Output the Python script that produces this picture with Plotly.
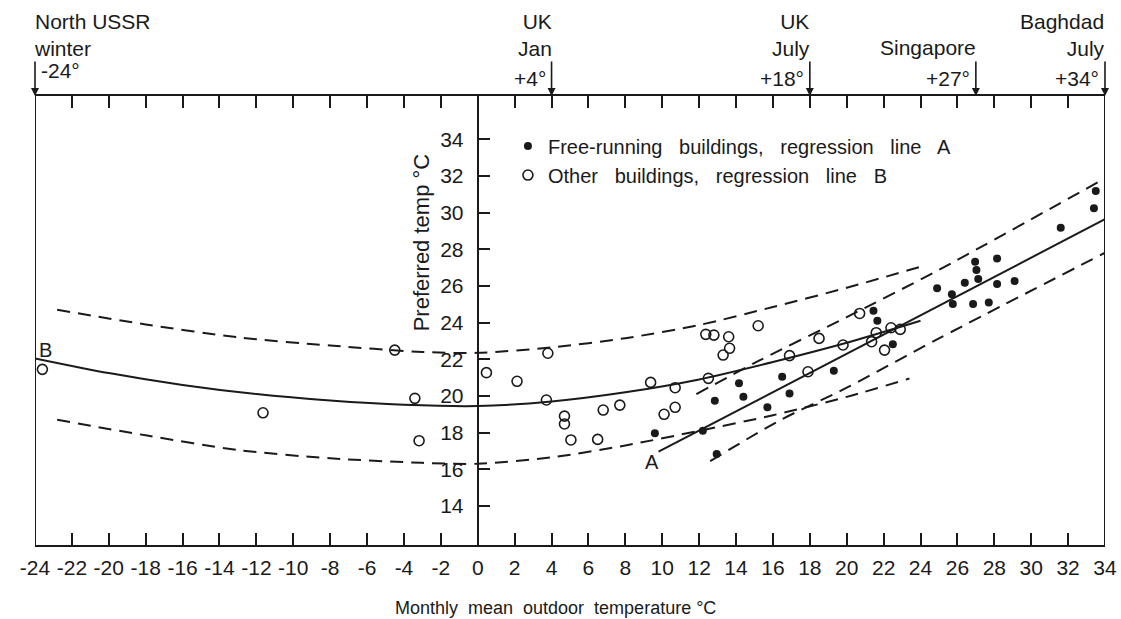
import plotly.graph_objects as go

# ---------------- data ----------------
free_x = [9.6, 12.2, 12.85, 12.95, 14.16, 14.4, 15.7, 16.5, 16.9, 19.3, 21.45, 21.66, 22.5,
          24.9, 25.7, 25.75, 26.4, 26.85, 26.96, 27.03, 27.13, 27.7, 28.15, 28.15, 29.1,
          31.6, 33.4, 33.5]
free_y = [17.96, 18.1, 19.74, 16.83, 20.69, 19.96, 19.38, 21.05, 20.14, 21.38, 24.65, 24.1, 22.82,
          25.87, 25.54, 25.01, 26.18, 25.01, 27.32, 26.87, 26.38, 25.1, 27.5, 26.1, 26.27,
          29.18, 30.24, 31.18]

other_x = [-23.6, -11.64, -4.5, -3.41, -3.18, 0.47, 2.13, 3.8, 3.72, 4.7, 4.7, 5.05, 6.5, 6.8,
           7.7, 9.37, 10.7, 10.1, 10.7, 12.36, 12.8, 13.6, 13.65, 13.3, 15.2, 12.5, 16.9,
           17.9, 18.5, 19.8, 20.7, 21.35, 21.6, 22.05, 22.4, 22.9]
other_y = [21.45, 19.08, 22.5, 19.87, 17.56, 21.27, 20.8, 22.33, 19.78, 18.9, 18.47, 17.6, 17.63,
           19.23, 19.5, 20.74, 20.45, 19.0, 19.38, 23.36, 23.32, 23.23, 22.6, 22.23, 23.83, 20.96,
           22.2, 21.32, 23.14, 22.78, 24.5, 22.96, 23.45, 22.5, 23.72, 23.63]

# regression line B and its band
lineB_x = [-24, -20, -16, -12, -8, -4, 0, 4, 8, 12, 16, 20, 24]
lineB_y = [22.05, 21.25, 20.6, 20.1, 19.75, 19.52, 19.45, 19.7, 20.2, 20.9, 21.85, 22.9, 24.1]
bandB_up_x = [-22.8, -18, -13, -8, -3, 0, 4, 8, 12, 16, 20, 24]
bandB_up_y = [24.7, 23.9, 23.2, 22.75, 22.4, 22.35, 22.65, 23.15, 23.87, 24.85, 25.9, 27.05]
bandB_lo_x = [-22.8, -18, -13, -8, -3, 0, 4, 8, 12, 16, 20, 23.4]
bandB_lo_y = [18.7, 17.85, 17.05, 16.6, 16.35, 16.3, 16.65, 17.3, 18.1, 18.95, 19.95, 20.95]

# regression line A and its band
lineA_x = [9.8, 34]
lineA_y = [16.96, 29.64]
bandA_up_x = [11.85, 15.3, 20, 25, 34]
bandA_up_y = [20.1, 21.95, 24.3, 26.88, 31.87]
bandA_lo_x = [12.6, 16.4, 20, 25, 34]
bandA_lo_y = [16.45, 18.68, 20.45, 23.14, 27.81]

x_ticks = list(range(-24, 35, 2))
x_ticktext = [str(v) for v in x_ticks]
y_ticks = list(range(14, 35, 2))

# top reference climates
ref_x = [-24, 4, 18, 27, 34]
ref_names = ["North USSR<br>winter", "UK<br>Jan", "UK<br>July", "Singapore", "Baghdad<br>July"]
ref_temps = ["-24°", "+4°", "+18°", "+27°", "+34°"]

FONT = "Liberation Sans, Arial, sans-serif"
INK = "#1a1a1a"

fig = go.Figure()

dash = "13px,8px"
for xs, ys, d in [(lineB_x, lineB_y, "solid"), (bandB_up_x, bandB_up_y, dash),
                  (bandB_lo_x, bandB_lo_y, dash), (lineA_x, lineA_y, "solid"),
                  (bandA_up_x, bandA_up_y, dash), (bandA_lo_x, bandA_lo_y, dash)]:
    fig.add_trace(go.Scatter(x=xs, y=ys, mode="lines", showlegend=False, hoverinfo="skip",
                             line=dict(color=INK, width=2, dash=d, shape="spline", smoothing=0.8)))

sp = "\u00a0\u00a0 "
fig.add_trace(go.Scatter(
    x=free_x, y=free_y, mode="markers", legendgroup="a",
    name=f"Free-running{sp}buildings,{sp}regression{sp}line{sp}A",
    marker=dict(symbol="circle", size=8, color=INK)))
fig.add_trace(go.Scatter(
    x=other_x, y=other_y, mode="markers", legendgroup="b",
    name=f"Other{sp}buildings,{sp}regression{sp}line{sp}B",
    marker=dict(symbol="circle-open", size=10, color=INK, line=dict(width=1.6, color=INK))))

# frame sides
for xv in (-24, 34):
    fig.add_shape(type="line", xref="x", yref="paper", x0=xv, x1=xv, y0=0, y1=1,
                  line=dict(color=INK, width=2))

# top arrows and labels
TS = 21
for xv, nm, tp in zip(ref_x, ref_names, ref_temps):
    fig.add_annotation(x=xv, y=1, xref="x", yref="paper", text="", showarrow=True,
                       ax=0, ay=-36, arrowhead=2, arrowsize=1, arrowwidth=1.6, arrowcolor=INK)
    if xv == -24:
        fig.add_annotation(x=xv, y=1.135, xref="x", yref="paper", text=nm, showarrow=False,
                           xanchor="left", yanchor="middle", align="left", xshift=-3,
                           font=dict(family=FONT, size=TS, color=INK))
        fig.add_annotation(x=xv, y=1.057, xref="x", yref="paper", text=tp, showarrow=False,
                           xanchor="left", yanchor="middle", xshift=4,
                           font=dict(family=FONT, size=TS, color=INK))
    else:
        yy = 1.107 if nm == "Singapore" else 1.135
        fig.add_annotation(x=xv, y=yy, xref="x", yref="paper", text=nm, showarrow=False,
                           xanchor="right", yanchor="middle", align="right", xshift=2,
                           font=dict(family=FONT, size=TS, color=INK))
        fig.add_annotation(x=xv, y=1.04, xref="x", yref="paper", text=tp, showarrow=False,
                           xanchor="right", yanchor="middle", xshift=-4,
                           font=dict(family=FONT, size=TS, color=INK))

# line labels
fig.add_annotation(x=-23.45, y=22.5, text="B", showarrow=False,
                   font=dict(family=FONT, size=20, color=INK))
fig.add_annotation(x=9.43, y=16.4, text="A", showarrow=False,
                   font=dict(family=FONT, size=20, color=INK))

# y title
fig.add_annotation(x=-3.0, y=28.4, text="Preferred temp °C", textangle=-90, showarrow=False,
                   font=dict(family=FONT, size=22, color=INK))
# x title
fig.add_annotation(x=0.486, y=-0.141, xref="paper", yref="paper",
                   text="Monthly\u00a0 mean\u00a0 outdoor\u00a0 temperature °C", showarrow=False,
                   yanchor="middle", font=dict(family=FONT, size=18, color=INK))

fig.update_layout(
    width=1121, height=619,
    margin=dict(l=35, r=16, t=96, b=74),
    paper_bgcolor="white", plot_bgcolor="white",
    font=dict(family=FONT, size=18, color=INK),
    showlegend=True,
    legend=dict(x=0.442, y=0.932, xanchor="left", yanchor="top", bgcolor="rgba(0,0,0,0)",
                font=dict(family=FONT, size=20, color=INK), tracegroupgap=0,
                itemwidth=30),
    xaxis=dict(range=[-24, 34], tickvals=x_ticks, ticktext=x_ticktext, automargin=False,
               showgrid=False, zeroline=False, showline=True, linecolor=INK, linewidth=2,
               mirror="ticks", ticks="inside", ticklen=12, tickwidth=1.6, tickcolor=INK,
               tickfont=dict(family=FONT, size=21, color=INK), ticklabelstandoff=3),
    yaxis=dict(range=[11.87, 36.36], tickvals=y_ticks, anchor="free", position=24 / 58,
               automargin=False,
               showgrid=False, zeroline=False, showline=True, linecolor=INK, linewidth=2,
               ticks="inside", ticklen=11, tickwidth=1.6, tickcolor=INK,
               tickfont=dict(family=FONT, size=21, color=INK), ticklabelstandoff=9),
)

fig.write_html("out.html", config={"displayModeBar": False},
               post_script="document.body.style.margin='0px';")
